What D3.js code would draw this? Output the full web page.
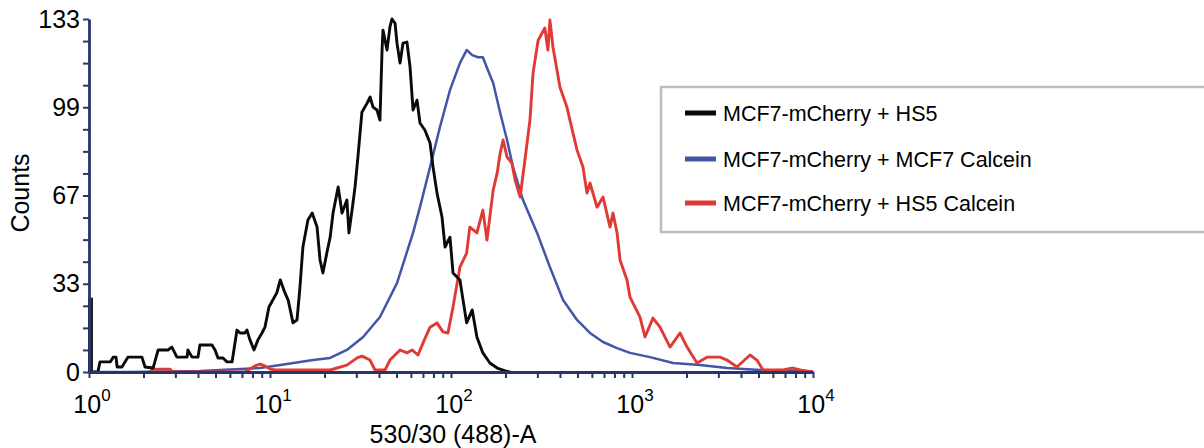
<!DOCTYPE html>
<html>
<head>
<meta charset="utf-8">
<script src="https://cdn.jsdelivr.net/npm/d3@7"></script>
<style>
  body { margin: 0; background: #fff; }
  text { font-family: "Liberation Sans", Arial, sans-serif; }
</style>
</head>
<body>
<div id="chart"></div>
<script>
// data: [fluorescence, counts]
var blackFirstBin = 28;
var blackHS5 = [
  [1, 0], [1.12, 0], [1.15, 3.8], [1.31, 3.8], [1.36, 5.6], [1.41, 5.6], [1.43, 1.9], [1.52, 1.9],
  [1.58, 3.8], [1.64, 5.6], [1.96, 5.6], [2.04, 1.9], [2.26, 1.5], [2.41, 8.3], [2.73, 8.3],
  [2.87, 9.4], [3.06, 5.6], [3.48, 5.6], [3.52, 8.3], [3.71, 5.6], [4.0, 5.6], [4.1, 10.2],
  [4.78, 10.2], [4.97, 8.3], [5.16, 5.3], [5.5, 5.3], [5.79, 3.8], [6.17, 3.8], [6.57, 15.8],
  [6.83, 14.7], [7.27, 14.7], [7.46, 15.8], [7.75, 12.1], [8.16, 8.3], [8.58, 12.1], [9.03, 14.7],
  [9.38, 16.9], [9.87, 24.5], [10.9, 29.8], [11.4, 34.7], [12.1, 29.8], [12.6, 27.1], [13.4, 18.5],
  [14.1, 19.6], [14.6, 30.9], [15.2, 47.1], [16.2, 57.3], [17.1, 59.9], [18.2, 54.6], [18.9, 42.2],
  [19.6, 37.3], [20.6, 44.8], [21.5, 50.8], [22.3, 59.9], [23.8, 69.7], [25.0, 59.9], [26.6, 64.8],
  [27.3, 52.4], [28.4, 61.0], [29.5, 69.7], [30.6, 81.0], [32.2, 97.9], [34.4, 101.3], [35.7, 103.6],
  [37.1, 99.8], [39.0, 98.7], [40.5, 94.9], [41.6, 121.3], [42.1, 128.8], [44.3, 121.3], [46.0, 130],
  [47.2, 133], [49.1, 131.4], [50.3, 123.9], [52.3, 116.4], [54.3, 123.9], [57.1, 124.3], [59.4, 114.9],
  [61.7, 98.7], [64.9, 102.4], [67.4, 93.8], [71.8, 91.1], [76.6, 86.3], [79.6, 77.2], [83.7, 67.4],
  [89.2, 58.4], [92.7, 47.1], [98.7, 50.8], [102.6, 37.3], [112, 34.7], [122, 18.5], [131, 23.4],
  [139, 13.2], [150, 7.2], [164, 3.4], [180, 1.5], [199, 0.4], [212, 0]
];
var blueMCF7 = [
  [1, 0], [1.68, 0], [4.1, 0.4], [8.81, 1.5], [11.4, 2.6], [17.3, 4.5], [21.5, 5.3], [26.6, 8.3],
  [32.7, 13.2], [40.5, 20.7], [50.3, 33.5], [61.7, 52.4], [67.4, 62.1], [76.6, 77.2], [86.9, 92.3],
  [98.7, 106.2], [112, 116.4], [122, 121.3], [131, 119.4], [141, 118.6], [150, 118.6], [160, 113.7],
  [171, 108.9], [187, 97.6], [204, 87.4], [220, 77.2], [250, 64.8], [299, 52.4], [352, 39.5],
  [416, 27.1], [497, 19.6], [586, 14.7], [692, 11.3], [827, 9.0], [975, 7.2], [1257, 5.6],
  [1685, 3.4], [2376, 2.6], [3349, 1.5], [5096, 0.75], [7755, 0.4], [10000, 0.2]
];
var redHS5 = [
  [2.17, 0], [2.26, 1.1], [2.8, 1.1], [2.91, 0], [7.27, 0], [7.75, 1.1], [8.26, 2.3], [8.81, 3.0],
  [9.38, 2.3], [10.0, 1.1], [10.7, 0.75], [16.6, 0.75], [21.5, 0.75], [26.6, 2.6], [30.3, 5.3],
  [32.2, 6.0], [35.7, 4.5], [38.0, 0.75], [43.2, 0.75], [46.0, 4.5], [52.3, 8.3], [57.1, 7.2],
  [60.9, 8.3], [65.7, 6.4], [70.0, 10.9], [76.6, 16.9], [83.7, 18.5], [90.3, 15.1], [96.2, 14.7],
  [102.6, 24.5], [112, 39.5], [122, 44.8], [127, 54.6], [139, 52.4], [150, 61.0], [158, 49.7],
  [171, 68.5], [180, 75.0], [187, 82.5], [194, 87.4], [204, 81.0], [217, 78.7], [226, 72.3],
  [241, 65.9], [256, 79.8], [273, 94.9], [284, 112.6], [303, 125.0], [330, 129.6], [343, 121.3],
  [352, 132.6], [366, 122.4], [400, 107.3], [437, 99.8], [454, 94.9], [497, 83.6], [536, 77.2],
  [564, 67.4], [586, 71.2], [641, 62.1], [692, 65.9], [756, 54.6], [785, 59.9], [827, 52.4],
  [859, 42.2], [938, 34.7], [975, 28.2], [1107, 20.7], [1180, 13.2], [1306, 20.3], [1428, 16.9],
  [1622, 9.4], [1842, 14.7], [2014, 9.4], [2286, 3.4], [2597, 5.6], [3064, 5.6], [3350, 4.5],
  [3802, 1.9], [4487, 6.4], [4900, 4.5], [5293, 0.75], [6826, 0.75], [7755, 1.5], [8472, 0.75],
  [10000, 0]
];
var seriesNames = ["MCF7-mCherry + HS5", "MCF7-mCherry + MCF7 Calcein", "MCF7-mCherry + HS5 Calcein"];
var seriesColors = ["#0a0a0a", "#4355a6", "#e03a35"];
var yTickValues = [0, 33.25, 66.5, 99.75, 133];
var yTickLabels = ["0", "33", "67", "99", "133"];
var xDecades = [0, 1, 2, 3, 4];

var width = 1204, height = 448;
var axisColor = "#26366b";

var svg = d3.select("#chart")
  .append("svg")
    .attr("width", width)
    .attr("height", height);

var x = d3.scaleLog()
  .domain([1, 10000])
  .range([89, 813]);

var y = d3.scaleLinear()
  .domain([0, 133])
  .range([372, 19]);

// curves
var line = d3.line()
  .x(function(d) { return x(d[0]); })
  .y(function(d) { return y(d[1]); });

var curves = [
  {data: blueMCF7, color: seriesColors[1], w: 2.5},
  {data: redHS5, color: seriesColors[2], w: 2.9},
  {data: blackHS5, color: seriesColors[0], w: 2.9}
];
curves.forEach(function(c) {
  svg.append("path")
    .attr("d", line(c.data))
    .attr("fill", "none")
    .attr("stroke", c.color)
    .attr("stroke-width", c.w)
    .attr("stroke-linejoin", "round");
});

// first bin pile-up at 10^0
svg.append("rect")
  .attr("x", x(1) - 1)
  .attr("y", y(blackFirstBin))
  .attr("width", 5)
  .attr("height", y(0) - y(blackFirstBin))
  .attr("fill", "#222");

// y axis: 4 minor steps between labelled ticks
var yAll = d3.range(0, 17).map(function(i) { return 133 * i / 16; });
var yAxis = svg.append("g")
  .attr("transform", "translate(89,0)")
  .call(d3.axisLeft(y).tickValues(yAll).tickSize(6).tickSizeOuter(0)
    .tickFormat(function(d) {
      var k = yTickValues.indexOf(d);
      return k >= 0 ? yTickLabels[k] : "";
    }));

// x axis with minor log ticks
var xAll = [];
xDecades.forEach(function(p) {
  for (var m = 1; m <= 9; m++) {
    var v = m * Math.pow(10, p);
    if (v <= 10000) xAll.push(v);
  }
});
var xAxis = svg.append("g")
  .attr("transform", "translate(0,372)")
  .call(d3.axisBottom(x).tickValues(xAll).tickSize(6).tickSizeOuter(0).tickFormat(""));

[yAxis, xAxis].forEach(function(g) {
  g.select(".domain").attr("stroke", axisColor).attr("stroke-width", 2.8);
  g.selectAll(".tick line").attr("stroke", axisColor).attr("stroke-width", 2);
});
yAxis.selectAll(".tick text")
  .attr("font-size", 25)
  .attr("fill", "#000")
  .attr("x", -9);

// decade labels 10^n
xDecades.forEach(function(p) {
  var t = svg.append("text")
    .attr("x", x(Math.pow(10, p)) + 3)
    .attr("y", 413)
    .attr("text-anchor", "middle")
    .attr("font-size", 25)
    .attr("fill", "#000");
  t.append("tspan").text("10");
  t.append("tspan").attr("font-size", 17).attr("dy", -12).text(p);
});

// axis titles
svg.append("text")
  .attr("x", 453)
  .attr("y", 443)
  .attr("text-anchor", "middle")
  .attr("font-size", 25)
  .attr("fill", "#000")
  .text("530/30 (488)-A");

svg.append("text")
  .attr("transform", "translate(29,193) rotate(-90)")
  .attr("text-anchor", "middle")
  .attr("font-size", 25)
  .attr("fill", "#000")
  .text("Counts");

// legend
var legend = svg.append("g");
legend.append("rect")
  .attr("x", 661)
  .attr("y", 87)
  .attr("width", 600)
  .attr("height", 145)
  .attr("fill", "#fff")
  .attr("stroke", "#bdbdbd")
  .attr("stroke-width", 2.5);

var rowY = [113, 159, 203];
seriesNames.forEach(function(name, i) {
  legend.append("line")
    .attr("x1", 685).attr("x2", 716)
    .attr("y1", rowY[i]).attr("y2", rowY[i])
    .attr("stroke", seriesColors[i])
    .attr("stroke-width", 5);
  legend.append("text")
    .attr("x", 723)
    .attr("y", rowY[i] + 8)
    .attr("font-size", 21.5)
    .attr("fill", "#000")
    .text(name);
});
</script>
</body>
</html>
